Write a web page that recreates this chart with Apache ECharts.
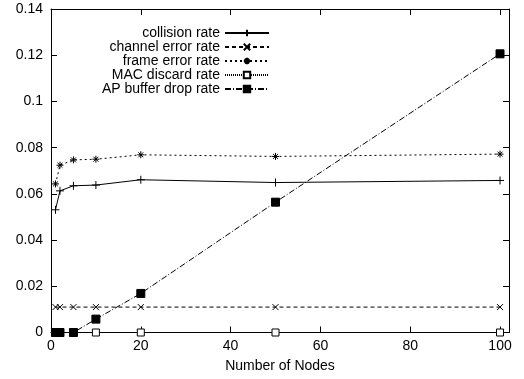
<!DOCTYPE html>
<html>
<head>
<meta charset="utf-8">
<script src="https://cdn.jsdelivr.net/npm/echarts@6/dist/echarts.min.js"></script>
<style>
  html, body { margin: 0; padding: 0; background: #fff; }
  #chart { width: 524px; height: 379px; }
</style>
</head>
<body>
<div id="chart"></div>
<script>
// Number of nodes in the network (x values)
const nodeCounts = [1, 2, 5, 10, 20, 50, 100];

// Rates per node count
const collisionRate    = [0.0531, 0.0613, 0.0635, 0.0638, 0.0661, 0.0649, 0.0658];
const channelErrorRate = [0.011, 0.011, 0.011, 0.011, 0.011, 0.011, 0.011];
const frameErrorRate   = [0.0643, 0.0724, 0.0747, 0.0750, 0.0769, 0.0762, 0.0772];
const macDiscardRate   = [0, 0, 0, 0, 0, 0, 0];
const apBufferDropRate = [0, 0, 0, 0.0058, 0.0169, 0.0564, 0.1206];

const seriesNames = ['collision rate', 'channel error rate', 'frame error rate',
                     'MAC discard rate', 'AP buffer drop rate'];

const xTickStep = 20;
const yTickStep = 0.02;

const FONT = '"Liberation Sans", Arial, Helvetica, sans-serif';
const INK = '#000';

// Stroke-only marker shapes
const plusMark = 'path://M5,0L5,10M0,5L10,5';
const crossMark = 'path://M0,0L10,10M0,10L10,0';
const starMark = 'path://M5,0L5,10M0,5L10,5M1.5,1.5L8.5,8.5M1.5,8.5L8.5,1.5';

function pairs(values) {
  return nodeCounts.map((x, i) => [x, values[i]]);
}

const styles = [
  { data: collisionRate,    symbol: plusMark,  size: 8, dash: 'solid',       fill: INK },
  { data: channelErrorRate, symbol: crossMark, size: 6, dash: [4, 3],        fill: INK },
  { data: frameErrorRate,   symbol: starMark,  size: 7, dash: [2, 3],        fill: INK },
  { data: macDiscardRate,   symbol: 'rect',    size: 7, dash: [1, 1],        fill: '#fff' },
  { data: apBufferDropRate, symbol: 'rect',    size: 8, dash: [6, 2, 1, 2],  fill: INK }
];

const series = styles.map((s, i) => ({
  name: seriesNames[i],
  type: 'line',
  data: pairs(s.data),
  symbol: s.symbol,
  symbolSize: s.size,
  showAllSymbol: true,
  lineStyle: { color: INK, width: 1, type: s.dash },
  itemStyle: { color: s.fill, borderColor: INK, borderWidth: 1 },
  emphasis: { disabled: true },
  z: 2 + i
}));

// One legend block per row so the samples line up on the right
const legendRowCenters = [33, 47, 61, 75, 89];
const legends = seriesNames.map((name, i) => ({
  data: [name],
  orient: 'vertical',
  align: 'right',
  right: 254,
  top: legendRowCenters[i] - 7,
  itemWidth: 44,
  itemHeight: 8,
  padding: 0,
  selectedMode: false,
  textStyle: { fontFamily: FONT, fontSize: 14, color: INK, lineHeight: 14 }
}));

const axisText = { fontFamily: FONT, fontSize: 14, color: INK };
const frameLine = { show: true, onZero: false, lineStyle: { color: INK, width: 1 } };
const innerTicks = { show: true, inside: true, length: 6, lineStyle: { color: INK, width: 1 } };

const option = {
  animation: false,
  backgroundColor: '#fff',
  grid: { left: 51, right: 15, top: 9, bottom: 46.5 },
  legend: legends,
  xAxis: [
    {
      type: 'value', min: 0, max: 102, interval: xTickStep,
      name: 'Number of Nodes', nameLocation: 'middle', nameGap: 27,
      nameTextStyle: axisText,
      axisLine: frameLine, axisTick: innerTicks,
      axisLabel: Object.assign({ margin: 7, showMaxLabel: false,
        formatter: v => (v % xTickStep === 0 ? String(v) : '') }, axisText),
      splitLine: { show: false }
    },
    {
      type: 'value', position: 'top', min: 0, max: 102, interval: xTickStep,
      axisLine: frameLine, axisTick: innerTicks,
      axisLabel: { show: false }, splitLine: { show: false }
    }
  ],
  yAxis: [
    {
      type: 'value', min: 0, max: 0.14, interval: yTickStep,
      axisLine: frameLine, axisTick: innerTicks,
      axisLabel: Object.assign({ margin: 8,
        formatter: v => String(+v.toFixed(2)) }, axisText),
      splitLine: { show: false }
    },
    {
      type: 'value', position: 'right', min: 0, max: 0.14, interval: yTickStep,
      axisLine: frameLine, axisTick: innerTicks,
      axisLabel: { show: false }, splitLine: { show: false }
    }
  ],
  series: series
};

const chart = echarts.init(document.getElementById('chart'), null, { renderer: 'canvas' });
chart.setOption(option);
</script>
</body>
</html>
